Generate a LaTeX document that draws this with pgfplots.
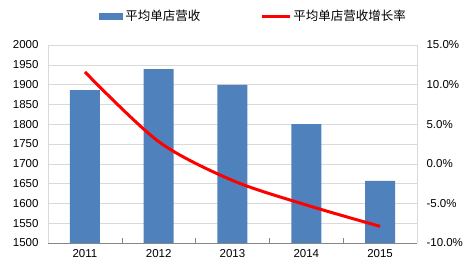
\documentclass[border=0pt]{standalone}
\usepackage{pgfplots}
\pgfplotsset{compat=1.18}
\usepackage{fontspec}
\setmainfont{Liberation Sans}
\newfontfamily\cjk{Noto Sans CJK SC}
\definecolor{barblue}{RGB}{79,129,189}
\definecolor{gridgray}{RGB}{217,217,217}
\definecolor{axgray}{RGB}{134,134,134}
\begin{document}
\begin{tikzpicture}[x=1pt,y=1pt]
\path[use as bounding box] (0,0) rectangle (467,268);
\begin{axis}[
  at={(48pt,25pt)}, anchor=south west, scale only axis,
  width=369pt, height=198pt,
  xmin=-0.5, xmax=4.5, ymin=1500, ymax=2000,
  xtick={0,1,2,3,4}, xticklabels={2011,2012,2013,2014,2015},
  major x tick style={draw=none},
  minor xtick={-0.5,0.5,1.5,2.5,3.5,4.5},
  minor x tick style={axgray, thin},
  minor tick length=5pt,
  ytick={1500,1550,...,2000},
  major y tick style={draw=none},
  ymajorgrids, grid style={gridgray, thin},
  axis x line*=bottom, axis y line*=left,
  x axis line style={axgray, -}, y axis line style={gridgray, -},
  tick label style={font=\fontsize{11.5}{13}\selectfont},
  /pgf/number format/assume math mode=true,
  /pgf/number format/1000 sep={},
  yticklabel style={xshift=-6pt},
  xticklabel style={yshift=-3pt},
  legend style={at={(0.557,1.146)}, anchor=center, draw=none, fill=none,
    font=\cjk\fontsize{12.5}{14}\selectfont, legend columns=2,
    /tikz/every even column/.append style={column sep=58pt}},
]
\addplot[ybar, bar width=30pt, fill=barblue, draw=none,
  legend image code/.code={\fill[barblue] (0pt,-3.5pt) rectangle (24pt,3.5pt);}]
  coordinates {(0,1886) (1,1939) (2,1899) (3,1800) (4,1657)};
\addlegendentry{平均单店营收}
\addlegendimage{legend image code/.code={\draw[red, line width=3pt] (0pt,0pt) -- (28pt,0pt);}}
\addlegendentry{平均单店营收增长率}
\end{axis}
\begin{axis}[
  at={(48pt,25pt)}, anchor=south west, scale only axis,
  width=369pt, height=198pt,
  xmin=-0.5, xmax=4.5, ymin=-10, ymax=15,
  axis x line=none, axis y line*=right,
  y axis line style={gridgray, -},
  ytick={-10,-5,...,15},
  major y tick style={draw=none},
  tick label style={font=\fontsize{11.5}{13}\selectfont},
  /pgf/number format/assume math mode=true,
  yticklabel={\pgfmathprintnumber[fixed,fixed zerofill,precision=1]{\tick}\%},
  yticklabel style={xshift=6pt},
]
\addplot[red, line width=3pt, smooth, tension=0.5] coordinates
  {(0,11.6) (1,2.8) (2,-2.1) (3,-5.2) (4,-7.9)};
\end{axis}
\end{tikzpicture}
\end{document}
